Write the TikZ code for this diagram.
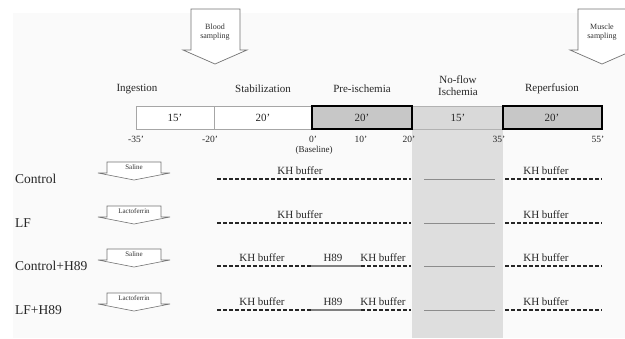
\documentclass[tikz,border=0pt]{standalone}
\usepackage{fontspec}
\setmainfont{Liberation Serif}
\begin{document}
\begin{tikzpicture}[x=1pt,y=-1pt,
  lbl/.style={inner sep=0pt,font=\fontsize{11}{12}\selectfont,text=black!85},
  rowlbl/.style={inner sep=0pt,anchor=west,font=\fontsize{13.5}{14}\selectfont,text=black!85},
  tick/.style={inner sep=0pt,font=\fontsize{9.5}{10}\selectfont,text=black!85},
  small/.style={inner sep=0pt,font=\fontsize{7}{8}\selectfont,text=black!80,align=center},
  kh/.style={black!85,line width=1.4pt,dash pattern=on 4pt off 2pt},
  isch/.style={black!45,line width=1pt},
  hline/.style={black!50,line width=2pt},
  blockarrow/.style={draw=black!55,fill=white,line width=0.7pt,line join=miter},
  whitebox/.style={draw=black!35,fill=white,line width=0.6pt},
  darkbox/.style={draw=black,fill=black!22,line width=1.4pt},
]
\useasboundingbox (0,0) rectangle (625,338);
\fill[black!2] (13,13) rectangle (625,338);
% no-flow column
\fill[black!13] (412,106) rectangle (503,338);
% timeline boxes
\draw[whitebox] (136,106) rectangle (214,129);
\draw[whitebox] (214,106) rectangle (312,129);
\draw[fill=black!15,draw=black!30,line width=0.6pt] (412,106) rectangle (503,129);
\draw[darkbox] (312,106) rectangle (412,129);
\draw[darkbox] (503,106) rectangle (602,129);
\node[lbl] (d15a) at (175,117.5) {15'};
\node[lbl] (d20a) at (263,117.5) {20'};
\node[lbl] (d20b) at (362,117.5) {20'};
\node[lbl] (d15b) at (458,117.5) {15'};
\node[lbl] (d20c) at (552,117.5) {20'};
% phase labels
\node[lbl] (ing) at (137,89) {Ingestion};
\node[lbl] (stab) at (263,89) {Stabilization};
\node[lbl] (pre) at (362,89) {Pre-ischemia};
\node[lbl,align=center] (nof) at (458,86) {No-flow\\Ischemia};
\node[lbl] (rep) at (552,89) {Reperfusion};
% ticks
\node[tick] (t1) at (136,139) {-35'};
\node[tick] (t2) at (210,139) {-20'};
\node[tick] (t3) at (313,139) {0'};
\node[tick] (t4) at (361,139) {10'};
\node[tick] (t5) at (409,139) {20'};
\node[tick] (t6) at (499,139) {35'};
\node[tick] (t7) at (598,139) {55'};
\node[tick,font=\fontsize{9}{10}\selectfont] (base) at (314,150) {(Baseline)};
% sampling arrows
\draw[blockarrow] (191,9) -- (240,9) -- (240,50) -- (247,50) -- (215,64) -- (183,50) -- (191,50) -- cycle;
\node[small,font=\fontsize{8}{9.5}\selectfont] (blood) at (215,32) {Blood\\sampling};
\draw[blockarrow] (578,9) -- (627,9) -- (627,50) -- (634,50) -- (602,64) -- (570,50) -- (578,50) -- cycle;
\node[small,font=\fontsize{8}{9.5}\selectfont] (muscle) at (602,32) {Muscle\\sampling};
% rows
\foreach \y/\name/\drug [count=\i] in {179/Control/Saline, 223/LF/Lactoferrin, 266/Control+H89/Saline, 310/LF+H89/Lactoferrin}{
  \node[rowlbl] (row\i) at (15,\y) {\name};
  \draw[blockarrow,line width=0.6pt] (107,\y-17) -- (161,\y-17) -- (161,\y-6) -- (170,\y-6) -- (134,\y+1) -- (98,\y-6) -- (107,\y-6) -- cycle;
  \node[small] (drug\i) at (134,\y-12) {\drug};
  \draw[isch] (424,\y) -- (495,\y);
  \draw[kh] (505,\y) -- (602,\y);
  \node[lbl] (khr\i) at (546,\y-8) {KH buffer};
}
\foreach \y [count=\i] in {179,223}{
  \draw[kh] (217,\y) -- (411,\y);
  \node[lbl] (khs\i) at (300,\y-8) {KH buffer};
}
\foreach \y [count=\i] in {266,310}{
  \draw[kh] (217,\y) -- (311,\y);
  \draw[hline] (311,\y) -- (361,\y);
  \draw[kh] (361,\y) -- (411,\y);
  \node[lbl] (kha\i) at (262,\y-8) {KH buffer};
  \node[lbl] (h\i) at (333,\y-8) {H89};
  \node[lbl] (khb\i) at (383,\y-8) {KH buffer};
}
\end{tikzpicture}
\end{document}
